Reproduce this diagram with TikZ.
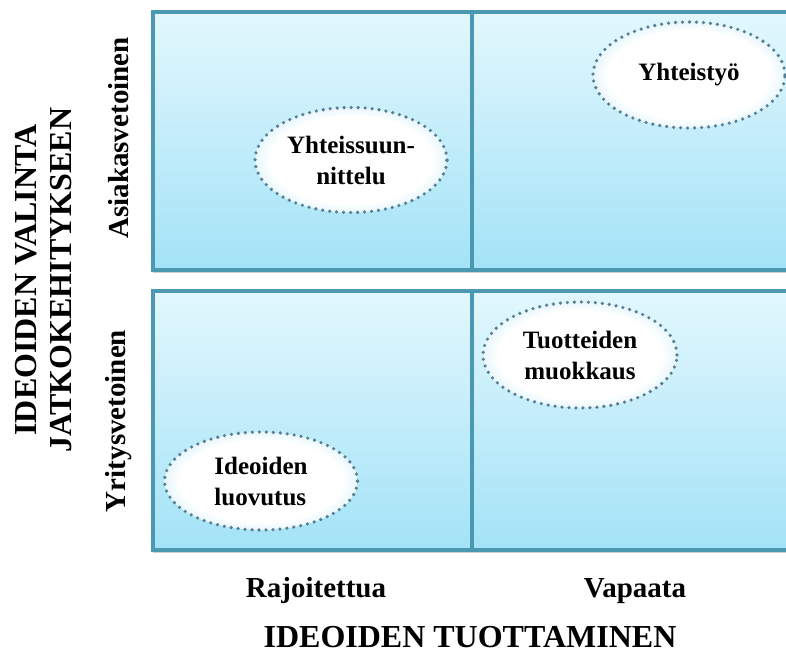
\documentclass[tikz,border=0pt]{standalone}
\usepackage{fontspec}
\setmainfont{Liberation Serif}
\usetikzlibrary{shapes.geometric,shadows}

\definecolor{boxline}{RGB}{74,152,178}
\definecolor{boxtop}{RGB}{226,247,253}
\definecolor{boxbot}{RGB}{163,227,247}
\definecolor{dotcol}{RGB}{88,128,148}
\definecolor{fadeedge}{RGB}{232,247,252}

% white bubble that softens just at its rim
\pgfdeclareradialshading{softwhite}{\pgfpoint{0bp}{0bp}}{%
  color(0bp)=(white); color(21bp)=(white); color(25bp)=(fadeedge); color(50bp)=(fadeedge)}

\tikzset{
  quad/.style={rectangle, draw=boxline, line width=3.5bp,
    top color=boxtop, bottom color=boxbot, inner sep=0pt,
    drop shadow={shadow xshift=0bp, shadow yshift=-3bp, opacity=.35, fill=black!55}},
  idea/.style={ellipse, draw=dotcol, line width=3.6bp, line cap=round,
    dash pattern=on 0bp off 7bp, shading=softwhite, inner sep=0pt,
    align=center, font=\fontsize{25bp}{31bp}\selectfont\bfseries},
  rowlab/.style={rotate=90, inner sep=0pt, font=\fontsize{29bp}{34bp}\selectfont\bfseries},
  ticklab/.style={anchor=base, inner sep=0pt, font=\fontsize{29bp}{34bp}\selectfont\bfseries},
  axislab/.style={inner sep=0pt, align=center, font=\fontsize{32bp}{35bp}\selectfont\bfseries},
}

\begin{document}
\begin{tikzpicture}[x=1bp, y=-1bp]
  \clip (0,0) rectangle (786,655);
  \fill[white] (0,0) rectangle (786,655);

  % the four quadrants
  \node[quad, minimum width=320bp, minimum height=258bp] (q12) at (632,141) {};
  \node[quad, minimum width=319bp, minimum height=258bp] (q11) at (312.5,141) {};
  \node[quad, minimum width=320bp, minimum height=259bp] (q22) at (632,420.5) {};
  \node[quad, minimum width=319bp, minimum height=259bp] (q21) at (312.5,420.5) {};

  % forms of co-creation
  \node[idea, minimum width=192bp, minimum height=105bp] (e1) at (351,160) {Yhteissuun-\\nittelu};
  \node[idea, minimum width=192bp, minimum height=106bp] (e2) at (689,75) {Yhteistyö};
  \node[idea, minimum width=193bp, minimum height=98bp, align=left] (e3) at (261,481) {Ideoiden\\luovutus};
  \node[idea, minimum width=194bp, minimum height=106bp] (e4) at (580,355) {Tuotteiden\\muokkaus};

  % row labels
  \node[rowlab] (rA) at (119,138) {Asiakasvetoinen};
  \node[rowlab] (rY) at (119,421) {Yritysvetoinen};

  % column labels
  \node[ticklab] (cR) at (316,597) {Rajoitettua};
  \node[ticklab] (cV) at (635,597) {Vapaata};

  % axis titles
  \node[axislab, rotate=90] (ay) at (44,280) {IDEOIDEN VALINTA\\JATKOKEHITYKSEEN};
  \node[axislab, anchor=base] (ax) at (470,647) {IDEOIDEN TUOTTAMINEN};
\end{tikzpicture}
\end{document}
